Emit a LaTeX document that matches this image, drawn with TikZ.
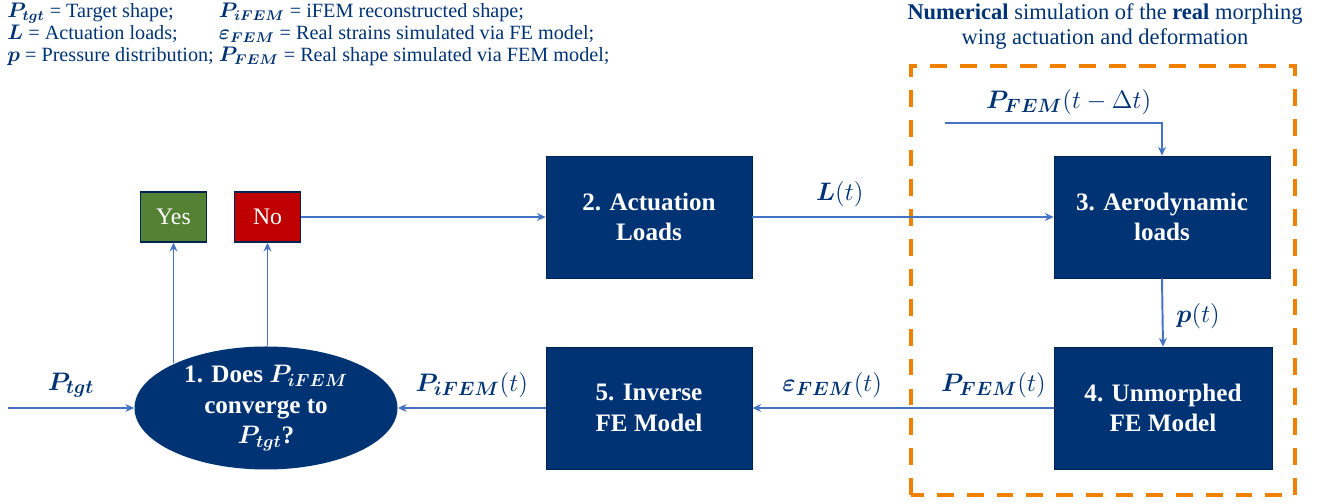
\documentclass[tikz,border=0pt]{standalone}
\usepackage{fontspec}
\setmainfont{Liberation Serif}
\usepackage{amsmath}
\usepackage{bm}
\usetikzlibrary{shapes.geometric,arrows.meta}
\definecolor{navy}{RGB}{0,51,116}
\definecolor{flowblue}{RGB}{68,114,196}
\definecolor{yesgreen}{RGB}{84,130,53}
\definecolor{nored}{RGB}{192,0,0}
\definecolor{simorange}{RGB}{240,128,0}
\begin{document}
\begin{tikzpicture}[
  block/.style={rectangle, draw=navy!70!black, fill=navy, text=white, align=center,
    font=\fontsize{14.3}{17.5}\selectfont\bfseries, minimum width=4.12cm, minimum height=2.44cm},
  answer/.style={rectangle, draw=navy!70!black, line width=0.8pt, text=white,
    font=\fontsize{13.5}{15}\selectfont, minimum width=1.32cm, minimum height=1cm},
  flow/.style={->, >={Stealth[length=5pt,width=4.5pt]}, line width=1.1pt, flowblue},
  lbl/.style={text=navy, font=\fontsize{15.5}{18}\selectfont},
]
\useasboundingbox (0,0) rectangle (26.58,10.08);

% Legend
\node[anchor=north west, inner sep=0pt, text=navy, font=\fontsize{11.5}{12.5}\selectfont] (legend) at (0.14,10.04) {%
\begin{tabular}{@{}l@{\ }l@{}}
$\bm{P}_{\bm{tgt}}$ = Target shape; & $\bm{P}_{\bm{iFEM}}$ = iFEM reconstructed shape;\\
$\bm{L}$ = Actuation loads; & $\bm{\varepsilon}_{\bm{FEM}}$ = Real strains simulated via FE model;\\
$\bm{p}$ = Pressure distribution; & $\bm{P}_{\bm{FEM}}$ = Real shape simulated via FEM model;
\end{tabular}};

% Simulation region
\draw[simorange, line width=2.3pt, dash pattern=on 9.6pt off 7.4pt] (18.22,0.18) rectangle (25.9,8.76);
\node[text=navy, align=center, font=\fontsize{12.8}{14.7}\selectfont] (simtitle) at (22.1,9.55)
  {\textbf{Numerical} simulation of the \textbf{real} morphing\\wing actuation and deformation};

% Blocks
\node[ellipse, fill=navy, minimum width=5.26cm, minimum height=2.46cm] (one) at (5.32,1.92) {};
\node[text=white, align=center, font=\fontsize{14.3}{17.5}\selectfont\bfseries] (onetext) at (one)
  {1. Does $\bm{P}_{\bm{iFEM}}$\\converge to\\$\bm{P}_{\bm{tgt}}$?};
\node[block] (act) at (12.98,5.74) {2. Actuation\\Loads};
\node[block, minimum width=4.32cm] (aero) at (23.24,5.74) {3. Aerodynamic\\loads};
\node[block, minimum width=4.36cm] (unm) at (23.26,1.92) {4. Unmorphed\\FE Model};
\node[block] (inv) at (12.98,1.92) {5. Inverse\\FE Model};

% Answers
\node[answer, fill=yesgreen] (yes) at (3.47,5.74) {Yes};
\node[answer, fill=nored] (no) at (5.35,5.74) {No};

% Free ends
\coordinate (start) at (0.16,1.92);
\coordinate (prev) at (18.9,7.62);

% Connectors
\draw[flow] (start) -- node[lbl, above, pos=0.5, yshift=2pt] {$\bm{P}_{\bm{tgt}}$} (one.west);
\draw[flow] (yes.south |- one.154) -- (yes.south);
\draw[flow] (no.south |- one.north) -- (no.south);
\draw[flow] (no.east) -- (act.west);
\draw[flow] (act.east) -- node[lbl, above, pos=0.29, yshift=2pt] {$\bm{L}(t)$} (aero.west);
\draw[flow] (prev) -- node[lbl, above, pos=0.57, yshift=1pt] {$\bm{P}_{\bm{FEM}}(t-\Delta t)$} (prev -| aero.north) -- (aero.north);
\draw[flow] (aero.south) -- node[lbl, right, pos=0.55, xshift=4pt] {$\bm{p}(t)$} (unm.north);
\draw[flow] (unm.west) -- node[lbl, above, pos=0.2, yshift=2pt] {$\bm{P}_{\bm{FEM}}(t)$}
  node[lbl, above, pos=0.735, yshift=2pt] {$\bm{\varepsilon}_{\bm{FEM}}(t)$} (inv.east);
\draw[flow] (inv.west) -- node[lbl, above, pos=0.5, yshift=2pt] {$\bm{P}_{\bm{iFEM}}(t)$} (one.east);

\end{tikzpicture}
\end{document}
